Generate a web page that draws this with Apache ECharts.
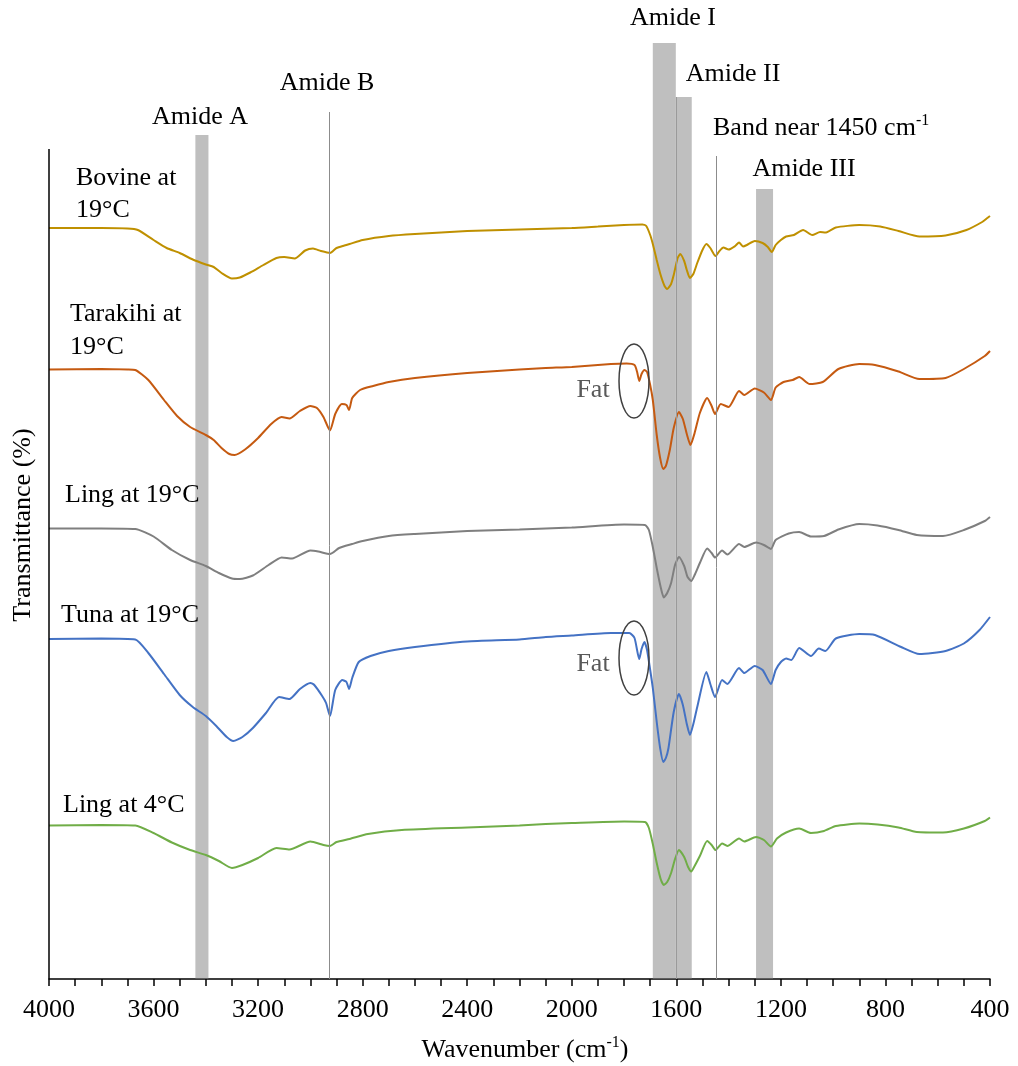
<!DOCTYPE html>
<html>
<head>
<meta charset="utf-8">
<script src="https://cdn.jsdelivr.net/npm/echarts@6/dist/echarts.min.js"></script>
<style>
  html, body { margin: 0; padding: 0; background: #fff; }
  #main { width: 1018px; height: 1066px; }
</style>
</head>
<body>
<div id="main"></div>
<script>
// offset FTIR spectra, [wavenumber, transmittance (arbitrary offset units)]
var bovine19 = [[4000,75.1],[3800,75.1],[3700,75.05],[3660,74.9],[3600,73.9],[3550,73.1],[3500,72.6],[3450,71.95],[3400,71.45],[3370,71.2],[3340,70.6],[3300,70.05],[3270,70.15],[3230,70.65],[3180,71.4],[3130,72.1],[3100,72.2],[3060,72.05],[3020,72.85],[2990,73.05],[2960,72.8],[2925,72.6],[2900,73.1],[2870,73.35],[2850,73.5],[2800,73.9],[2700,74.3],[2600,74.5],[2400,74.8],[2200,74.95],[2000,75.1],[1900,75.25],[1800,75.4],[1730,75.45],[1715,75.3],[1700,74.4],[1690,73.5],[1675,71.9],[1660,70.4],[1645,69.3],[1635,69.0],[1620,69.5],[1610,70.4],[1595,72.1],[1585,72.5],[1570,71.8],[1560,70.9],[1548,70.1],[1535,70.5],[1520,71.6],[1500,72.9],[1485,73.5],[1470,73.1],[1450,72.3],[1435,72.8],[1420,73.15],[1400,72.95],[1375,73.3],[1360,73.65],[1345,73.25],[1330,73.4],[1300,73.8],[1270,73.6],[1250,73.2],[1235,72.7],[1220,73.4],[1200,73.9],[1180,74.25],[1150,74.4],[1115,74.9],[1080,74.4],[1050,74.7],[1030,74.65],[990,75.15],[900,75.4],[820,75.25],[750,74.8],[670,74.25],[570,74.35],[490,74.9],[430,75.7],[410,76.1],[400,76.3]];

var tarakihi19 = [[4000,60.95],[3800,61.0],[3700,60.95],[3670,60.9],[3620,59.9],[3560,57.9],[3510,56.3],[3460,55.2],[3400,54.4],[3370,53.9],[3340,53.1],[3310,52.5],[3290,52.4],[3250,52.95],[3200,54.1],[3150,55.5],[3110,56.2],[3080,56.05],[3040,56.8],[3000,57.3],[2975,57.1],[2950,56.2],[2925,54.85],[2905,56.5],[2880,57.5],[2862,57.4],[2852,56.9],[2840,58.1],[2810,58.9],[2760,59.3],[2700,59.7],[2600,60.1],[2400,60.6],[2200,60.95],[2100,61.1],[2000,61.2],[1850,61.5],[1790,61.55],[1760,61.4],[1750,60.7],[1742,59.8],[1733,60.5],[1722,60.9],[1712,60.7],[1700,59.4],[1690,57.9],[1675,54.4],[1662,52.1],[1650,51.0],[1640,51.3],[1625,52.9],[1610,55.1],[1590,56.7],[1575,56.0],[1560,54.5],[1546,53.4],[1530,54.6],[1510,56.6],[1482,58.1],[1465,57.3],[1452,56.5],[1430,57.5],[1400,57.2],[1360,58.8],[1340,58.4],[1300,59.05],[1265,58.65],[1238,57.9],[1220,59.15],[1190,59.7],[1155,59.9],[1130,60.2],[1090,59.5],[1040,59.7],[980,61.0],[900,61.5],[840,61.4],[750,60.75],[670,60.0],[570,60.1],[500,61.0],[420,62.3],[400,62.8]];

var ling19 = [[4000,45.05],[3800,45.05],[3670,45.0],[3600,44.25],[3530,42.9],[3460,41.9],[3400,41.3],[3350,40.6],[3300,40.05],[3270,40.0],[3220,40.35],[3160,41.4],[3110,42.15],[3070,42.05],[3000,42.85],[2970,42.75],[2925,42.5],[2890,43.1],[2840,43.5],[2800,43.8],[2700,44.3],[2600,44.5],[2400,44.8],[2200,44.95],[2000,45.15],[1800,45.45],[1720,45.4],[1705,44.9],[1690,43.2],[1675,41.1],[1660,39.2],[1648,38.15],[1635,38.6],[1620,39.6],[1605,41.4],[1590,42.2],[1570,41.3],[1557,40.2],[1543,39.8],[1530,40.4],[1510,41.6],[1482,43.05],[1465,42.6],[1452,42.15],[1425,42.85],[1405,42.45],[1360,43.5],[1340,43.2],[1295,43.65],[1265,43.4],[1238,43.0],[1220,43.9],[1170,44.55],[1130,44.7],[1085,44.25],[1035,44.3],[980,44.95],[900,45.5],[830,45.35],[750,44.9],[680,44.4],[580,44.3],[500,44.9],[420,45.8],[400,46.2]];

var tuna19 = [[4000,34.0],[3800,34.05],[3670,33.95],[3620,32.6],[3560,30.5],[3500,28.4],[3450,27.2],[3400,26.3],[3360,25.3],[3320,24.2],[3295,23.8],[3260,24.2],[3220,25.1],[3170,26.6],[3120,28.2],[3080,28.0],[3040,29.0],[3000,29.6],[2985,29.4],[2955,28.3],[2940,27.6],[2925,26.3],[2905,28.9],[2878,29.9],[2862,29.7],[2852,29.0],[2840,30.1],[2815,31.7],[2770,32.3],[2700,32.8],[2600,33.2],[2400,33.75],[2200,33.95],[2100,34.2],[2000,34.35],[1850,34.6],[1780,34.6],[1760,34.1],[1742,32.0],[1733,33.0],[1722,33.7],[1712,32.9],[1700,30.9],[1690,29.1],[1675,25.7],[1662,23.1],[1650,21.7],[1640,22.1],[1630,23.1],[1610,26.7],[1590,28.5],[1575,27.4],[1560,25.5],[1548,24.4],[1535,25.5],[1520,27.2],[1485,30.7],[1470,29.5],[1452,28.2],[1425,29.9],[1405,29.5],[1360,31.1],[1340,30.6],[1300,31.3],[1270,30.9],[1238,29.5],[1220,30.9],[1200,31.7],[1180,32.05],[1160,31.9],[1130,33.1],[1085,32.3],[1055,33.05],[1030,32.8],[990,34.05],[900,34.5],[840,34.4],[740,33.2],[670,32.5],[570,32.8],[500,33.55],[440,34.9],[400,36.2]];

var ling4 = [[4000,15.35],[3800,15.4],[3670,15.35],[3600,14.6],[3530,13.65],[3460,12.9],[3400,12.4],[3350,11.8],[3300,11.1],[3260,11.4],[3200,12.1],[3130,13.1],[3080,12.95],[3000,13.75],[2950,13.4],[2925,13.3],[2900,13.7],[2850,14.0],[2780,14.5],[2650,14.9],[2400,15.15],[2200,15.35],[2100,15.5],[2000,15.6],[1800,15.75],[1720,15.7],[1705,15.1],[1690,13.5],[1675,11.6],[1660,10.0],[1648,9.4],[1635,9.7],[1620,10.6],[1605,12.0],[1590,12.9],[1570,12.2],[1555,11.2],[1543,10.75],[1530,11.3],[1510,12.3],[1482,13.8],[1465,13.4],[1450,12.9],[1425,13.55],[1405,13.3],[1360,14.05],[1340,13.75],[1295,14.2],[1265,13.9],[1238,13.25],[1215,14.05],[1180,14.65],[1130,15.05],[1085,14.6],[1035,14.8],[990,15.3],[900,15.55],[830,15.45],[750,15.15],[680,14.7],[580,14.65],[500,15.05],[420,15.8],[400,16.15]];

var seriesNames = ['Bovine at 19°C', 'Tarakihi at 19°C', 'Ling at 19°C', 'Tuna at 19°C', 'Ling at 4°C'];
var seriesColors = ['#BF9000', '#C55A11', '#7F7F7F', '#4472C4', '#70AD47'];
var seriesData = [bovine19, tarakihi19, ling19, tuna19, ling4];

// shaded bands: [from, to, top]
var bands = [[3440, 3390, 84.4], [1690, 1602, 93.6], [1602, 1541, 88.2], [1295, 1230, 79.0]];
// single reference lines: [wavenumber, top]
var refLines = [[2928, 86.7], [1449, 82.3]];

var xTicks = [4000, 3600, 3200, 2800, 2400, 2000, 1600, 1200, 800, 400];

var font = '"Liberation Serif", "Times New Roman", serif';
var chart = echarts.init(document.getElementById('main'));

var series = seriesData.map(function (d, i) {
  return {
    name: seriesNames[i],
    type: 'line',
    data: d,
    showSymbol: false,
    smooth: 0.2,
    color: seriesColors[i],
    lineStyle: { width: 2 },
    z: 2
  };
});

var areaData = bands.map(function (b) {
  return [{ xAxis: b[0], yAxis: 0 }, { xAxis: b[1], yAxis: b[2] }];
});
var lineData = refLines.map(function (l) {
  return [{ coord: [l[0], 0], lineStyle: { color: '#8c8c8c', width: 1 } }, { coord: [l[0], l[1]] }];
});
// darker edge between amide I and II
lineData.push([{ coord: [1602, 0], lineStyle: { color: '#9a9a9a', width: 1 } }, { coord: [1602, 88.2] }]);
// y axis line
lineData.push([{ coord: [4000, 0], lineStyle: { color: '#000', width: 1.5 } }, { coord: [4000, 83] }]);

series.push({
  type: 'line',
  data: [],
  z: 5,
  silent: true,
  markArea: {
    silent: true,
    itemStyle: { color: 'rgba(128,128,128,0.5)' },
    data: areaData
  },
  markLine: {
    silent: true,
    symbol: ['none', 'none'],
    label: { show: false },
    lineStyle: { type: 'solid' },
    data: lineData
  }
});

function txt(x, y, text, opts) {
  opts = opts || {};
  return {
    type: 'text',
    x: x,
    y: y,
    z: 10,
    style: {
      text: text,
      fill: opts.fill || '#000',
      font: '26px ' + font,
      align: opts.align || 'center',
      verticalAlign: 'middle',
      lineHeight: opts.lineHeight || 30,
      rich: {
        sup: { fontFamily: font, fontSize: 16, verticalAlign: 'top', fill: opts.fill || '#000' },
        n: { fontFamily: font, fontSize: 26, fill: opts.fill || '#000' }
      }
    }
  };
}

var graphics = [
  txt(200, 117, 'Amide A'),
  txt(327, 83, 'Amide B'),
  txt(673, 18, 'Amide I'),
  txt(733, 74, 'Amide II'),
  txt(713, 128, '{n|Band near 1450 cm}{sup|-1}', { align: 'left' }),
  txt(804, 169, 'Amide III'),
  txt(76, 194, 'Bovine at\n19°C', { align: 'left', lineHeight: 32 }),
  txt(70, 331, 'Tarakihi at\n19°C', { align: 'left', lineHeight: 33 }),
  txt(65, 495, 'Ling at 19°C', { align: 'left' }),
  txt(61, 615, 'Tuna at 19°C', { align: 'left' }),
  txt(63, 805, 'Ling at 4°C', { align: 'left' }),
  txt(593, 390, 'Fat', { fill: '#595959' }),
  txt(593, 664, 'Fat', { fill: '#595959' }),
  { type: 'ellipse', z: 10, shape: { cx: 634, cy: 381, rx: 15, ry: 37 }, style: { fill: 'none', stroke: '#404040', lineWidth: 1.5 } },
  { type: 'ellipse', z: 10, shape: { cx: 634, cy: 658, rx: 15, ry: 37 }, style: { fill: 'none', stroke: '#404040', lineWidth: 1.5 } },
  txt(525, 1050, '{n|Wavenumber (cm}{sup|-1}{n|)}'),
  {
    type: 'text', z: 10, x: 23, y: 525, rotation: Math.PI / 2,
    style: { text: 'Transmittance (%)', font: '26px ' + font, fill: '#000', align: 'center', verticalAlign: 'middle' }
  }
];

chart.setOption({
  animation: false,
  backgroundColor: '#fff',
  grid: { left: 49, right: 28, top: 39, bottom: 87 },
  xAxis: {
    type: 'value',
    min: 400,
    max: 4000,
    interval: 100,
    inverse: true,
    splitLine: { show: false },
    axisLine: { show: true, onZero: false, lineStyle: { color: '#000', width: 1.5 } },
    axisTick: { show: true, inside: false, length: 7, lineStyle: { color: '#000', width: 1.5 } },
    axisLabel: {
      show: true,
      margin: 18,
      showMinLabel: true,
      showMaxLabel: true,
      hideOverlap: false,
      color: '#000',
      fontFamily: font,
      fontSize: 26,
      formatter: function (v) {
        return xTicks.indexOf(v) >= 0 ? String(v) : '';
      }
    }
  },
  yAxis: {
    type: 'value',
    min: 0,
    max: 94,
    axisLine: { show: false },
    axisTick: { show: false },
    axisLabel: { show: false },
    splitLine: { show: false }
  },
  series: series,
  graphic: graphics
});
</script>
</body>
</html>
